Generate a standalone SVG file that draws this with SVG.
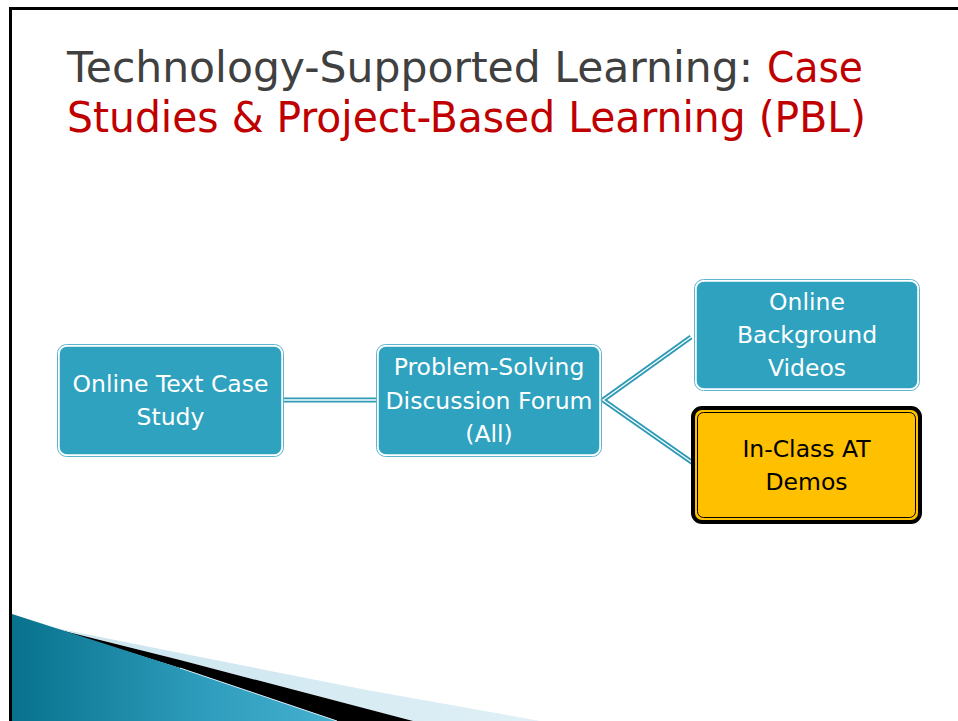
<svg xmlns="http://www.w3.org/2000/svg" width="958" height="721" viewBox="0 0 958 721">
<style>
.title{font-family:"DejaVu Sans","Liberation Sans",sans-serif;font-size:42px}
.nt{font-family:"DejaVu Sans","Liberation Sans",sans-serif;font-size:23.5px;fill:#ffffff;text-anchor:middle}
.nty{font-family:"DejaVu Sans","Liberation Sans",sans-serif;font-size:23.5px;fill:#000000;text-anchor:middle}
.box{fill:#2ea2bf;stroke:#ffffff;stroke-width:1.5}
.boxo{fill:none;stroke:#5ab6cf;stroke-width:1}
.ct{fill:none;stroke:#2e9bb6;stroke-width:5}
.cw{fill:none;stroke:#ffffff;stroke-width:1.3}
</style>
<defs>
<linearGradient id="tg" x1="0" y1="0" x2="1" y2="0">
<stop offset="0" stop-color="#08728d"/>
<stop offset="0.6" stop-color="#2f9dbd"/>
<stop offset="1" stop-color="#46b0cf"/>
</linearGradient>
<linearGradient id="lg" x1="0" y1="0" x2="1" y2="0">
<stop offset="0" stop-color="#c9e4ee"/>
<stop offset="1" stop-color="#e0f0f6"/>
</linearGradient>
</defs>
<rect x="0" y="0" width="958" height="721" fill="#ffffff"/>
<g id="frame">
<path d="M10.5 721 V8.5 H958" fill="none" stroke="#000000" stroke-width="3"/>
</g>
<g id="decoration">
<path d="M50 627 L180 653 L367 690 L540 721 L413 721 L180 660 Z" fill="url(#lg)"/>
<path d="M52 628 L180 660 L413 721 L337 721 L180 668 Z" fill="#000000"/>
<path d="M12 614 L180 668 L337 721 L12 721 Z" fill="url(#tg)"/>
<path d="M180 668 L337 721" fill="none" stroke="#cfe8f0" stroke-width="1"/>
</g>
<g id="title">
<text class="title" x="67" y="82" fill="#404040" textLength="686" lengthAdjust="spacingAndGlyphs">Technology-Supported Learning:</text>
<text class="title" x="767" y="82" fill="#c00000" textLength="96" lengthAdjust="spacingAndGlyphs">Case</text>
<text class="title" x="67" y="132" fill="#c00000" textLength="799" lengthAdjust="spacingAndGlyphs">Studies &amp; Project-Based Learning (PBL)</text>
</g>
<g id="connectors">
<line class="ct" x1="283" y1="400" x2="377" y2="400"/>
<line class="cw" x1="283" y1="400" x2="377" y2="400"/>
<polyline class="ct" points="691,337 603,400 693,463"/>
<polyline class="cw" points="691,337 603,400 693,463"/>
</g>
<g id="node-case-study">
<rect class="boxo" x="57.5" y="344.5" width="226" height="112" rx="9"/>
<rect class="box" x="59" y="346" width="223" height="109" rx="8"/>
<text class="nt" x="170.5" y="392">Online Text Case</text>
<text class="nt" x="170.5" y="425">Study</text>
</g>
<g id="node-forum">
<rect class="boxo" x="376.5" y="344.5" width="225" height="112" rx="9"/>
<rect class="box" x="378" y="346" width="222" height="109" rx="8"/>
<text class="nt" x="489" y="375">Problem-Solving</text>
<text class="nt" x="489" y="409">Discussion Forum</text>
<text class="nt" x="489" y="442">(All)</text>
</g>
<g id="node-videos">
<rect class="boxo" x="694.5" y="279.5" width="225" height="111" rx="9"/>
<rect class="box" x="696" y="281" width="222" height="108" rx="8"/>
<text class="nt" x="807" y="310">Online</text>
<text class="nt" x="807" y="343">Background</text>
<text class="nt" x="807" y="376">Videos</text>
</g>
<g id="node-demos">
<rect x="693" y="408" width="227" height="114" rx="9" fill="#ffc000" stroke="#000000" stroke-width="4"/>
<rect x="697.5" y="412.5" width="218" height="105" rx="6" fill="none" stroke="#000000" stroke-width="1"/>
<text class="nty" x="806.5" y="457">In-Class AT</text>
<text class="nty" x="806.5" y="490">Demos</text>
</g>
</svg>
